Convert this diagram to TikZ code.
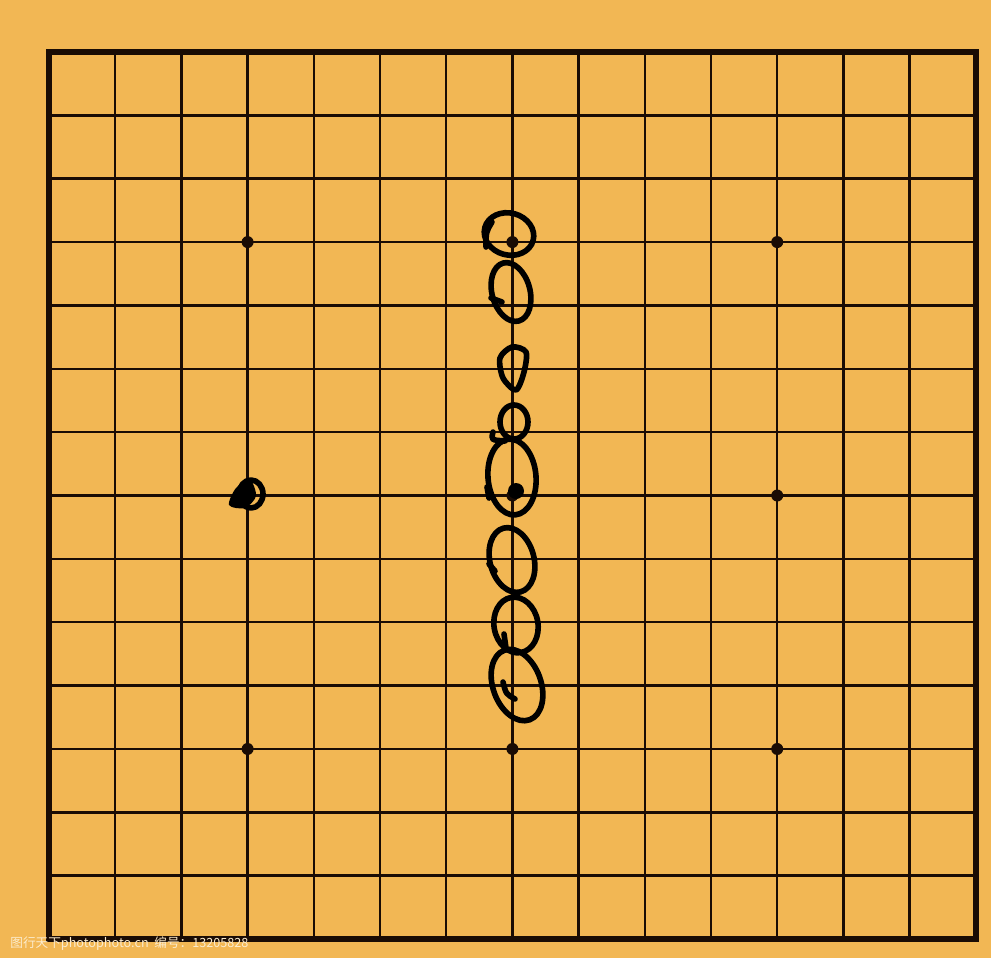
\documentclass[tikz,border=0pt]{standalone}
\usepackage{fontspec}
\newfontfamily\cjkfont{Noto Sans CJK SC}
\definecolor{boardwood}{RGB}{242,183,84}
\definecolor{boardline}{RGB}{26,12,4}
\definecolor{markcream}{RGB}{252,236,205}

\begin{document}
\begin{tikzpicture}[x=0.02cm,y=-0.02cm,
  gridline/.style={line width=1.4pt,boardline},
  pen/.style={line width=3.2pt,line cap=round,line join=round,black}]
\fill[boardwood] (0,0) rectangle (991,958);
\useasboundingbox (0,0) rectangle (991,958);
% board lines
\foreach \i in {1,...,13} {
  \draw[gridline] ({49+66.2*\i},52) -- ({49+66.2*\i},939);
  \draw[gridline] (49,{52+63.36*\i}) -- (976,{52+63.36*\i});
}
\draw[boardline,line width=3pt] (49,52) rectangle (976,939);
% star points
\foreach \x in {3,7,11}
  \foreach \y in {3,7,11}
    \fill[boardline] ({49+66.2*\x},{52+63.36*\y}) circle (6);
% hand marks on the middle line
\draw[pen, rotate around={-15:(509,234)}] (509,234) ellipse [x radius=25, y radius=21];
\draw[pen] (492,222) .. controls (486,232) .. (486,247);
\draw[pen, rotate around={15:(511,292)}] (511,292) ellipse [x radius=19, y radius=30];
\draw[pen] (491,298) -- (502,302);
\draw[pen] plot[smooth cycle] coordinates {(500,358) (512,347) (526,352) (524,372) (516,390) (503,378)};
\draw[pen] (514,422) ellipse [x radius=14, y radius=17];
\draw[pen] (493,432) .. controls (491,440) .. (505,441);
\draw[pen, rotate around={5:(512,477)}] (512,477) ellipse [x radius=24, y radius=38];
\draw[pen] (487,487) -- (489,498);
\fill[black] (516,491) circle (8);
\draw[pen, rotate around={15:(512,560)}] (512,560) ellipse [x radius=22, y radius=33];
\draw[pen] (489,564) -- (495,571);
\draw[pen, rotate around={10:(516,625)}] (516,625) ellipse [x radius=22, y radius=28];
\draw[pen] (504,634) -- (506,648);
\draw[pen, rotate around={20:(517,685)}] (517,685) ellipse [x radius=24, y radius=37];
\draw[pen] (503,682) .. controls (506,694) .. (515,699);
% mark on the left
\fill[black] plot[smooth cycle] coordinates {(229,505) (236,488) (250,480) (256,496) (245,508)};
\draw[pen] (251,494) ellipse [x radius=12, y radius=14];
% stamp
\node[anchor=base west, text=markcream, inner sep=0pt,
  font=\cjkfont\fontsize{7.2}{8}\selectfont] (stamp) at (10,947)
  {图行天下photophoto.cn\ \ 编号：13205828};
\end{tikzpicture}
\end{document}
